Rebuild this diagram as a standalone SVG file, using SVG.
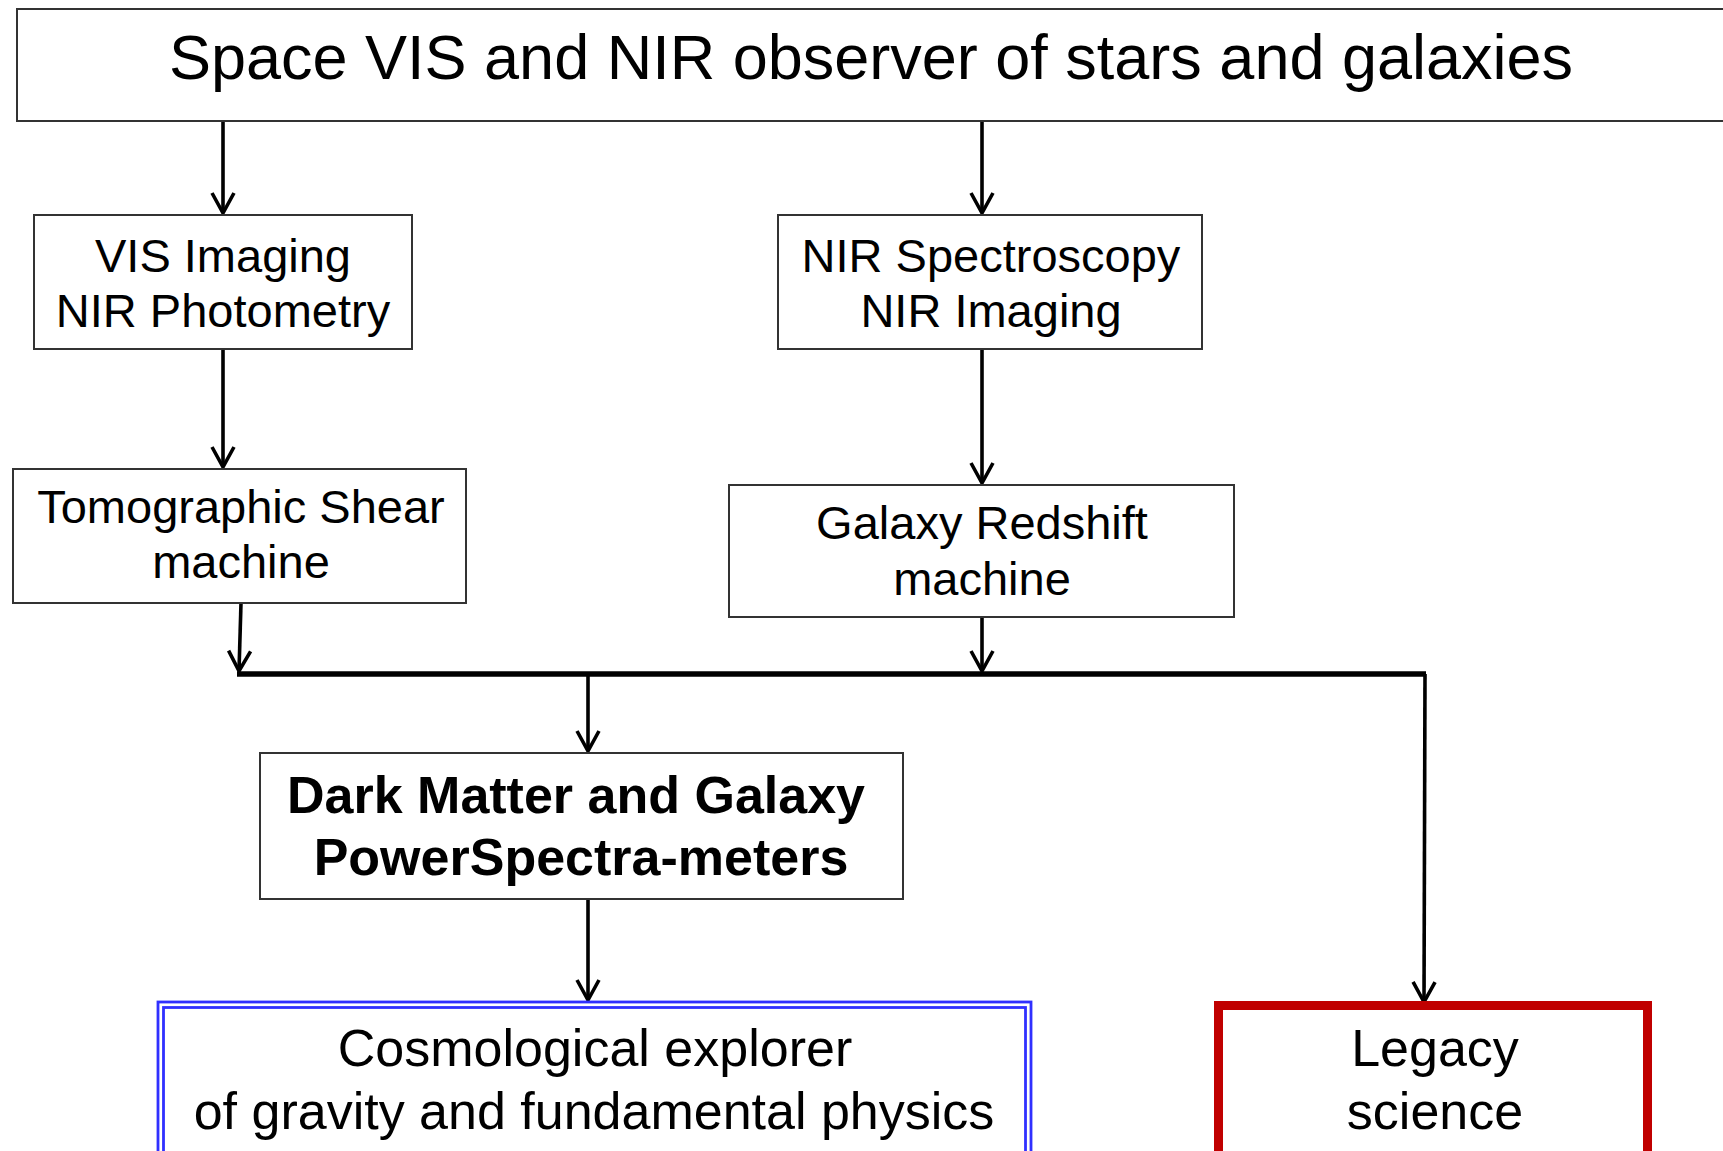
<svg xmlns="http://www.w3.org/2000/svg" width="1723" height="1151" viewBox="0 0 1723 1151">
<defs>
<style>
.box{fill:#fff;stroke:#333;stroke-width:2}
.t{font-family:"Liberation Sans",Arial,sans-serif;font-size:47px;fill:#000;text-anchor:middle}
.big{font-size:52px}
.title{font-size:63px}
.b{font-weight:bold}
.con{fill:none;stroke:#000;stroke-width:3.6}
.bus{fill:none;stroke:#000;stroke-width:5.5}
.blue{fill:none;stroke:#3030ff;stroke-width:2.8}
</style>
<marker id="ah" markerUnits="userSpaceOnUse" viewBox="-24 -14 28 28" markerWidth="28" markerHeight="28" refX="0" refY="0" orient="auto" overflow="visible">
<path d="M-20,-11 L0,0 L-20,11" fill="none" stroke="#000" stroke-width="3.6" stroke-linejoin="miter"/>
</marker>
</defs>
<rect width="1723" height="1151" fill="#fff"/>
<g id="connectors">
<line class="con" x1="223" y1="121" x2="223" y2="213" marker-end="url(#ah)"/>
<line class="con" x1="982" y1="121" x2="982" y2="213" marker-end="url(#ah)"/>
<line class="con" x1="223" y1="349" x2="223" y2="467" marker-end="url(#ah)"/>
<line class="con" x1="982" y1="349" x2="982" y2="483" marker-end="url(#ah)"/>
<line class="con" x1="241" y1="603" x2="239" y2="671" marker-end="url(#ah)"/>
<line class="con" x1="982" y1="617" x2="982" y2="671" marker-end="url(#ah)"/>
<polyline class="bus" points="237,674 1426,674"/>
<line class="con" x1="1425" y1="674" x2="1424" y2="1002" marker-end="url(#ah)"/>
<line class="con" x1="588" y1="676" x2="588" y2="751" marker-end="url(#ah)"/>
<line class="con" x1="588" y1="899" x2="588" y2="1000" marker-end="url(#ah)"/>
</g>
<g id="top">
<rect class="box" x="17" y="9" width="1720" height="112"/>
<text class="t title" x="871" y="79">Space VIS and NIR observer of stars and galaxies</text>
</g>
<g id="vis">
<rect class="box" x="34" y="215" width="378" height="134"/>
<text class="t" x="223" y="272">VIS Imaging</text>
<text class="t" x="223" y="327">NIR Photometry</text>
</g>
<g id="nir">
<rect class="box" x="778" y="215" width="424" height="134"/>
<text class="t" x="991" y="272">NIR Spectroscopy</text>
<text class="t" x="991" y="327">NIR Imaging</text>
</g>
<g id="tomo">
<rect class="box" x="13" y="469" width="453" height="134"/>
<text class="t" x="241" y="523">Tomographic Shear</text>
<text class="t" x="241" y="578">machine</text>
</g>
<g id="galaxy">
<rect class="box" x="729" y="485" width="505" height="132"/>
<text class="t" x="982" y="539">Galaxy Redshift</text>
<text class="t" x="982" y="595">machine</text>
</g>
<g id="darkmatter">
<rect class="box" x="260" y="753" width="643" height="146"/>
<text class="t big b" x="576" y="813">Dark Matter and Galaxy</text>
<text class="t big b" x="581" y="875">PowerSpectra-meters</text>
</g>
<g id="cosmo">
<rect fill="#fff" x="158" y="1002" width="873" height="170"/>
<rect class="blue" x="158" y="1002" width="873" height="170"/>
<rect class="blue" x="163.5" y="1007.5" width="862" height="160"/>
<text class="t big" x="595" y="1066">Cosmological explorer</text>
<text class="t big" x="594" y="1129">of gravity and fundamental physics</text>
</g>
<g id="legacy">
<rect x="1218.5" y="1005.5" width="429" height="170" fill="#fff" stroke="#c00000" stroke-width="9"/>
<text class="t big" x="1435" y="1066">Legacy</text>
<text class="t big" x="1435" y="1129">science</text>
</g>
</svg>
